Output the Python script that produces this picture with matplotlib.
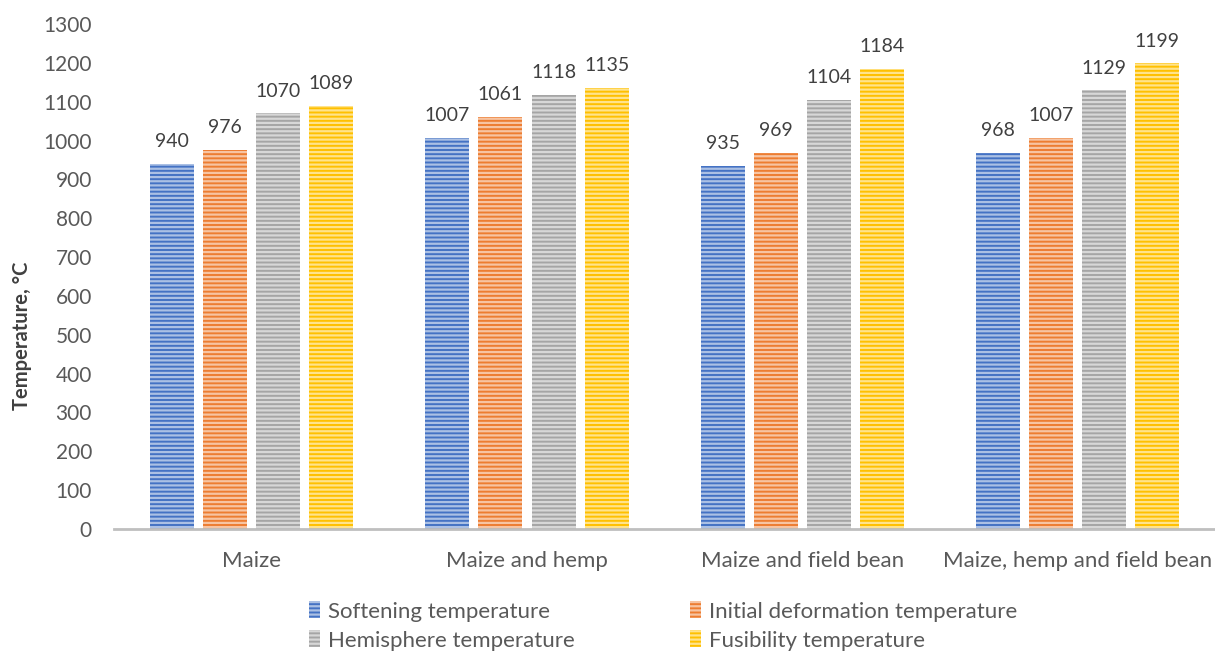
import numpy as np
import matplotlib
matplotlib.use("Agg")
import matplotlib.pyplot as plt
from matplotlib.colors import to_rgb

plt.rcParams['font.family'] = ['Lato', 'DejaVu Sans']
plt.rcParams['hatch.linewidth'] = 1.6

categories = ["Maize", "Maize and hemp", "Maize and field bean", "Maize, hemp and field bean"]
series = ["Softening temperature", "Initial deformation temperature",
          "Hemisphere temperature", "Fusibility temperature"]
softening = [940, 1007, 935, 968]
initial_def = [976, 1061, 969, 1007]
hemisphere = [1070, 1118, 1104, 1129]
fusibility = [1089, 1135, 1184, 1199]
values = [softening, initial_def, hemisphere, fusibility]
colors = ["#4472C4", "#ED7D31", "#A5A5A5", "#FFC000"]


def lighter(c, f=0.55):
    r, g, b = to_rgb(c)
    return (r + (1 - r) * f, g + (1 - g) * f, b + (1 - b) * f)


fig = plt.figure(figsize=(12.15, 6.51), dpi=100)
ax = fig.add_axes([0.094, 0.1874, 0.906, 0.7757])

x = np.arange(len(categories))
w = 0.16
step = 0.193
handles = []
for i, (name, vals, c) in enumerate(zip(series, values, colors)):
    pos = x + (i - 1.5) * step
    bars = ax.bar(pos, vals, w, facecolor=c, edgecolor=lighter(c), hatch='----',
                  linewidth=0, label=name)
    handles.append(bars)
    for b, v in zip(bars, vals):
        ax.annotate(str(v), (b.get_x() + b.get_width() / 2, v), xytext=(0, 12),
                    textcoords='offset points', ha='center', va='baseline',
                    fontsize=14, color='#404040')

ax.set_xlim(-0.5, 3.5)
ax.set_ylim(0, 1300)
ax.set_yticks(range(0, 1301, 100))
ax.set_xticks(x)
ax.set_xticklabels(categories)
ax.tick_params(axis='y', length=0, labelsize=15, labelcolor='#595959', pad=16)
ax.tick_params(axis='x', length=0, labelsize=16, labelcolor='#595959', pad=16)
for s in ['top', 'right', 'left']:
    ax.spines[s].set_visible(False)
ax.spines['bottom'].set_color('#bfbfbf')
ax.spines['bottom'].set_linewidth(2)
ax.set_ylabel("Temperature, °C", fontsize=14.5, fontweight='bold', color='#404040')
ax.yaxis.set_label_coords(-0.075, 0.382)

# row-major order: Softening, Initial / Hemisphere, Fusibility
order = [0, 2, 1, 3]
leg = fig.legend([handles[k] for k in order], [series[k] for k in order],
                 loc='lower left', bbox_to_anchor=(0.238, -0.03), ncol=2, frameon=False,
                 fontsize=16, handlelength=0.5, handleheight=0.8, handletextpad=0.35,
                 columnspacing=5.2, labelspacing=0.39)
for t in leg.get_texts():
    t.set_color('#595959')

fig.savefig("out.png", dpi=100)
